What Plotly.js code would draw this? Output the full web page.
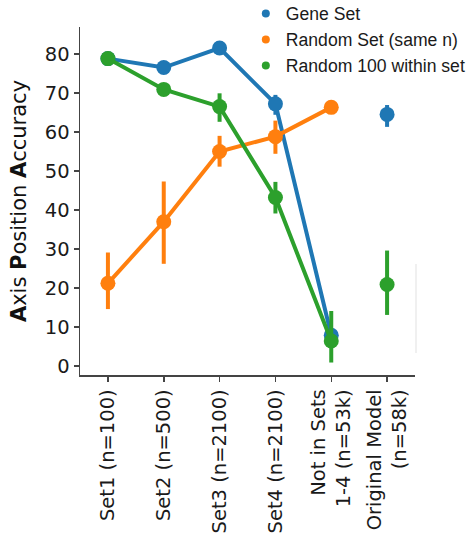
<!DOCTYPE html>
<html>
<head>
<meta charset="utf-8">
<script src="https://cdn.plot.ly/plotly-3.0.1.min.js"></script>
<style>
  html, body { margin: 0; padding: 0; background: #fff; }
  #chart { width: 471px; height: 538px; }
</style>
</head>
<body>
<div id="chart"></div>
<script>
// Groups along the x axis
const categories = [
  'Set1 (n=100)',
  'Set2 (n=500)',
  'Set3 (n=2100)',
  'Set4 (n=2100)',
  'Not in Sets<br>1-4 (n=53k)',
  'Original Model<br>(n=58k)'
];

// Mean accuracy and confidence interval bounds per group
const geneSet   = [78.8, 76.5, 81.5, 67.2, 7.9, 64.5];
const geneLo    = [77.9, 75.5, 80.5, 64.4, 6.3, 61.3];
const geneHi    = [79.7, 77.6, 82.5, 69.5, 9.6, 66.9];

const randomSet   = [21.2, 37.0, 55.0, 58.8, 66.3, null];
const randomSetLo = [14.6, 26.2, 51.1, 54.4, 64.9, null];
const randomSetHi = [29.1, 47.3, 59.0, 62.9, 67.8, null];

const random100   = [78.8, 70.9, 66.5, 43.2, 6.4, 20.9];
const random100Lo = [77.9, 69.4, 62.6, 39.1, 0.9, 13.1];
const random100Hi = [79.7, 72.5, 69.9, 47.2, 14.1, 29.6];

const yTicks = [0, 10, 20, 30, 40, 50, 60, 70, 80];

const seriesNames = ['Gene Set', 'Random Set (same n)', 'Random 100 within set'];
const colors = ['#1f77b4', '#ff7f0e', '#2ca02c'];

const series = [
  { mean: geneSet,   lo: geneLo,      hi: geneHi },
  { mean: randomSet, lo: randomSetLo, hi: randomSetHi },
  { mean: random100, lo: random100Lo, hi: random100Hi }
];

const connected = 5; // the first five groups are joined by a line

function errs(s, idx) {
  return {
    type: 'data',
    symmetric: false,
    array: idx.map(i => s.mean[i] == null ? null : s.hi[i] - s.mean[i]),
    arrayminus: idx.map(i => s.mean[i] == null ? null : s.mean[i] - s.lo[i]),
    thickness: 4,
    width: 0
  };
}

const traces = [];

// Legend entries: dots only
seriesNames.forEach((name, k) => {
  traces.push({
    type: 'scatter', mode: 'markers', name: name,
    x: [null], y: [null],
    marker: { color: colors[k], size: 8 },
    hoverinfo: 'skip'
  });
});

series.forEach((s, k) => {
  const lineIdx = [0, 1, 2, 3, 4].slice(0, connected);
  traces.push({
    type: 'scatter', mode: 'lines+markers', showlegend: false,
    x: lineIdx.map(i => categories[i]),
    y: lineIdx.map(i => s.mean[i]),
    line: { color: colors[k], width: 4 },
    marker: { color: colors[k], size: 15 },
    error_y: Object.assign(errs(s, lineIdx), { color: colors[k] })
  });
  const lastIdx = [5];
  if (s.mean[5] != null) {
    traces.push({
      type: 'scatter', mode: 'markers', showlegend: false,
      x: lastIdx.map(i => categories[i]),
      y: lastIdx.map(i => s.mean[i]),
      marker: { color: colors[k], size: 15 },
      error_y: Object.assign(errs(s, lastIdx), { color: colors[k] })
    });
  }
});

const tickFont = { family: 'DejaVu Sans', size: 19.5, color: '#1a1a1a' };

const layout = {
  width: 471, height: 538,
  margin: { l: 80, r: 56, t: 27, b: 163, pad: 0, autoexpand: false },
  paper_bgcolor: '#ffffff',
  plot_bgcolor: '#ffffff',
  showlegend: true,
  legend: {
    x: 0.495, xanchor: 'left',
    y: 1.09, yanchor: 'top',
    bgcolor: 'rgba(0,0,0,0)',
    font: { family: 'Liberation Sans, Arial, sans-serif', size: 17.6, color: '#1a1a1a' },
    itemwidth: 30,
    tracegroupgap: 0
  },
  xaxis: {
    type: 'category',
    range: [-0.5, 5.5],
    tickangle: -90,
    automargin: false,
    showline: true, linecolor: '#444', linewidth: 1.5,
    ticks: 'outside', ticklen: 5, tickwidth: 1.5, tickcolor: '#444',
    showgrid: false, zeroline: false,
    tickfont: tickFont,
    fixedrange: true
  },
  yaxis: {
    range: [-2.3, 86.9],
    tickvals: yTicks,
    automargin: false,
    showline: true, linecolor: '#444', linewidth: 1.5,
    ticks: 'outside', ticklen: 5, tickwidth: 1.5, tickcolor: '#444',
    showgrid: false, zeroline: false,
    tickfont: tickFont,
    title: {
      text: '<b>A</b>xis <b>P</b>osition <b>A</b>ccuracy',
      font: { family: 'DejaVu Sans', size: 21, color: '#111' },
      standoff: 12
    },
    fixedrange: true
  },
  shapes: [{
    type: 'line', xref: 'paper', yref: 'paper',
    x0: 1.003, x1: 1.003, y0: 0.063, y1: 0.319,
    line: { color: '#ebebeb', width: 1.5 }
  }]
};

Plotly.newPlot('chart', traces, layout, { displayModeBar: false, staticPlot: true });
</script>
</body>
</html>
